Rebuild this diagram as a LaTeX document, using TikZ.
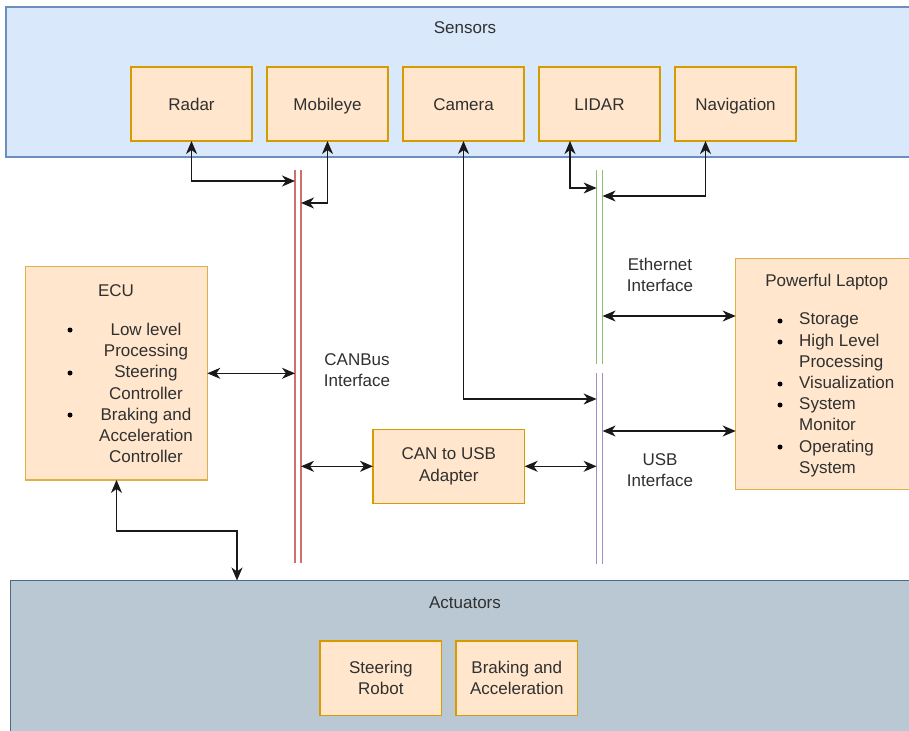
\documentclass[tikz,border=0pt]{standalone}
\usepackage{fontspec}
\setmainfont{Liberation Sans}
\usetikzlibrary{arrows.meta}

\definecolor{sensfill}{HTML}{DAE8FC}
\definecolor{sensline}{HTML}{6C8EBF}
\definecolor{actfill}{HTML}{BAC8D3}
\definecolor{actline}{HTML}{4D6A85}
\definecolor{boxfill}{HTML}{FFE6CC}
\definecolor{boxline}{HTML}{D79B00}
\definecolor{bigline}{HTML}{E0B048}
\definecolor{canc}{HTML}{D0706C}
\definecolor{ethc}{HTML}{8EBE74}
\definecolor{usbc}{HTML}{A68BC0}
\definecolor{txt}{HTML}{303030}

\begin{document}
\begin{tikzpicture}[x=1pt,y=-1pt,
  every node/.style={text=txt, font=\fontsize{17}{21.2}\selectfont},
  group/.style={draw, line width=1.2pt, inner sep=0pt, outer sep=0pt},
  box/.style={draw=boxline, fill=boxfill, line width=1.2pt, inner sep=0pt,
    outer sep=0pt, align=center},
  onebox/.style={box, text height=14.5pt, text depth=1.5pt},
  bigbox/.style={box, draw=bigline},
  bus/.style={inner sep=0pt, outer sep=0pt, minimum width=6pt},
  busline/.style={line width=1.5pt},
  arr/.style={{Stealth[length=13pt,width=11pt,inset=4pt]}-{Stealth[length=13pt,width=11pt,inset=4pt]},
    line width=1.3pt, draw=black!90},
  dot/.style={fill=black}]

\useasboundingbox (0,0) rectangle (909,730);
\clip (0,0) rectangle (909,730);
\fill[white] (0,0) rectangle (909,730);

% Containers
\node[group, draw=sensline, fill=sensfill, minimum width=914pt, minimum height=150pt]
  (sensors) at (463,82) {};
\node (sensorsT) at (465,28) {Sensors};
\node[group, draw=actline, fill=actfill, minimum width=910pt, minimum height=160pt]
  (act) at (465.5,660.5) {};
\node (actT) at (465,603) {Actuators};

% Sensor boxes
\foreach \n/\t/\x in {radar/Radar/191.5, mobileye/Mobileye/327.5, camera/Camera/463.5,
                      lidar/LIDAR/599.5, nav/Navigation/735.5}
  \node[onebox, minimum width=121pt, minimum height=74pt] (\n) at (\x,104) {\t};

% Buses
\node[bus, minimum height=393pt] (can) at (298,366.5) {};
\node[bus, minimum height=194pt] (eth) at (599.6,267) {};
\node[bus, minimum height=191pt] (usb) at (599.6,468.5) {};
\draw[busline, canc] (can.north west) -- (can.south west) (can.north east) -- (can.south east);
\draw[busline, ethc] (eth.north west) -- (eth.south west) (eth.north east) -- (eth.south east);
\draw[busline, usbc] (usb.north west) -- (usb.south west) (usb.north east) -- (usb.south east);

\node[align=center] (canT) at (357,370.5) {CANBus\\Interface};
\node[align=center] (ethT) at (660,275) {Ethernet\\Interface};
\node[align=center] (usbT) at (660,470.5) {USB\\Interface};

% ECU
\node[bigbox, minimum width=181.6pt, minimum height=213.3pt] (ecu) at (116.5,373.3) {};
\node (ecuT) at (116,291) {ECU};
\node[align=center] (ecuL) at (146,393) {Low level\\Processing\\Steering\\Controller\\Braking and\\Acceleration\\Controller};
\foreach \y in {330,373,415} \fill[dot] (70,\y) circle (2.5pt);

% Laptop
\node[bigbox, minimum width=182pt, minimum height=231pt] (laptop) at (826.7,373.8) {};
\node (laptopT) at (826.7,282.5) {Powerful Laptop};
\node[align=left, anchor=west, inner sep=0pt] (laptopL) at (799,395)
  {Storage\\High Level\\Processing\\Visualization\\System\\Monitor\\Operating\\System};
\foreach \y in {321,342,384,405,447} \fill[dot] (780,\y) circle (2.5pt);

% Adapter and actuator boxes
\node[box, minimum width=151.7pt, minimum height=74pt] (adapter) at (448.8,466.3) {CAN to USB\\Adapter};
\node[box, minimum width=121.7pt, minimum height=74.7pt] (steer) at (380.8,678.3) {Steering\\Robot};
\node[box, minimum width=121.7pt, minimum height=74.7pt] (brake) at (516.8,678.3) {Braking and\\Acceleration};

% Connectors
\draw[arr] (radar.south) |- (can.west |- 0,181);
\draw[arr] (mobileye.south) |- (can.east |- 0,203);
\draw[arr] ([xshift=-29.5pt]lidar.south) |- (eth.west |- 0,188);
\draw[arr] ([xshift=-30pt]nav.south) |- (eth.east |- 0,196);
\draw[arr] (eth.east |- 0,316) -- (laptop.west |- 0,316);
\draw[arr] (usb.east |- 0,431) -- (laptop.west |- 0,431);
\draw[arr] (camera.south) |- (usb.west |- 0,399);
\draw[arr] (ecu.east) -- (can.west |- ecu.east);
\draw[arr] (adapter.west) -- (can.east |- adapter.west);
\draw[arr] (adapter.east) -- (usb.west |- adapter.east);
\draw[arr] (ecu.south) -- ++(0,51) -| (act.north west -| 237,0);
\end{tikzpicture}
\end{document}
